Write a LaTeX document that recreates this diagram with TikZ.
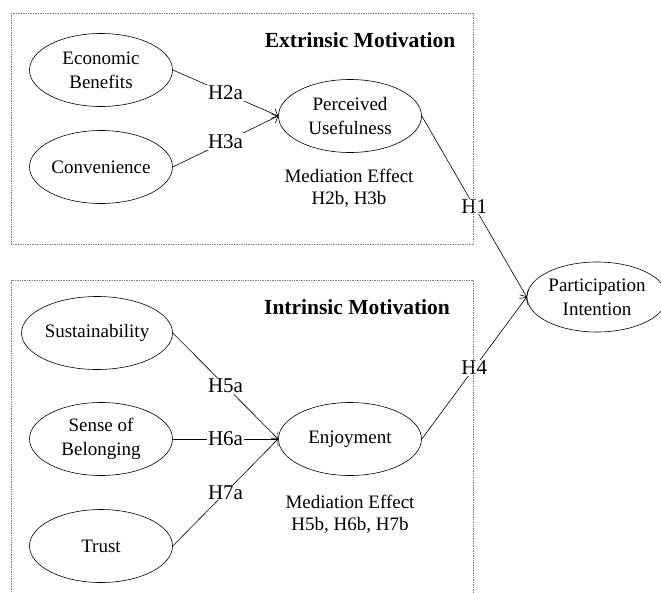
\documentclass[tikz,border=0pt]{standalone}
\usepackage{fontspec}
\setmainfont{Liberation Serif}
\usetikzlibrary{arrows.meta,shapes.geometric}
\begin{document}
\begin{tikzpicture}[x=1pt, y=-1pt, line width=0.6pt,
  construct/.style={draw, ellipse, minimum width=143pt, minimum height=73pt,
    inner sep=0pt, align=center, font=\fontsize{19}{24}\selectfont},
  hyp/.style={midway, fill=white, inner sep=1pt, font=\fontsize{21}{24}\selectfont},
  link/.style={-{Straight Barb[length=5pt,width=10pt]}},
  motivbox/.style={densely dotted, gray, line width=0.7pt},
  boxtitle/.style={font=\fontsize{21.5}{24}\bfseries\selectfont},
  note/.style={align=center, font=\fontsize{19}{22}\selectfont}]
  \useasboundingbox (0,0) rectangle (661,592);
  % extrinsic motivation
  \node[construct] (econ) at (101,70) {Economic\\Benefits};
  \node[construct] (conv) at (101,167) {Convenience};
  \node[construct] (pu) at (350,116) {Perceived\\Usefulness};
  \node[note] (medA) at (349,188) {Mediation Effect\\H2b, H3b};
  \node[boxtitle] (extr) at (360,40) {Extrinsic Motivation};
  % intrinsic motivation
  \node[construct, minimum width=151pt] (sust) at (97,333) {Sustainability};
  \node[construct] (belong) at (101,439) {Sense of\\Belonging};
  \node[construct] (trust) at (101,546) {Trust};
  \node[construct] (enjoy) at (350,439) {Enjoyment};
  \node[note] (medB) at (350,514) {Mediation Effect\\H5b, H6b, H7b};
  \node[boxtitle] (intr) at (357,307) {Intrinsic Motivation};
  % outcome
  \node[construct, minimum width=140pt, minimum height=70pt, inner sep=-3pt] (pi) at (597,297) {Participation\\Intention};
  % paths
  \draw[link] (econ.east) -- node[hyp] {H2a} (pu.west);
  \draw[link] (conv.east) -- node[hyp] {H3a} (pu.west);
  \draw[link] (sust.east) -- node[hyp] {H5a} (enjoy.west);
  \draw[link] (belong.east) -- node[hyp] {H6a} (enjoy.west);
  \draw[link] (trust.east) -- node[hyp] {H7a} (enjoy.west);
  \draw[link] (pu.east) -- node[hyp] {H1} (pi.west);
  \draw[link] (enjoy.east) -- node[hyp] {H4} (pi.west);
  % boxes
  \draw[motivbox] (11,13) rectangle (473,244);
  \draw[motivbox] (11,280) rectangle (473,610);
\end{tikzpicture}
\end{document}
